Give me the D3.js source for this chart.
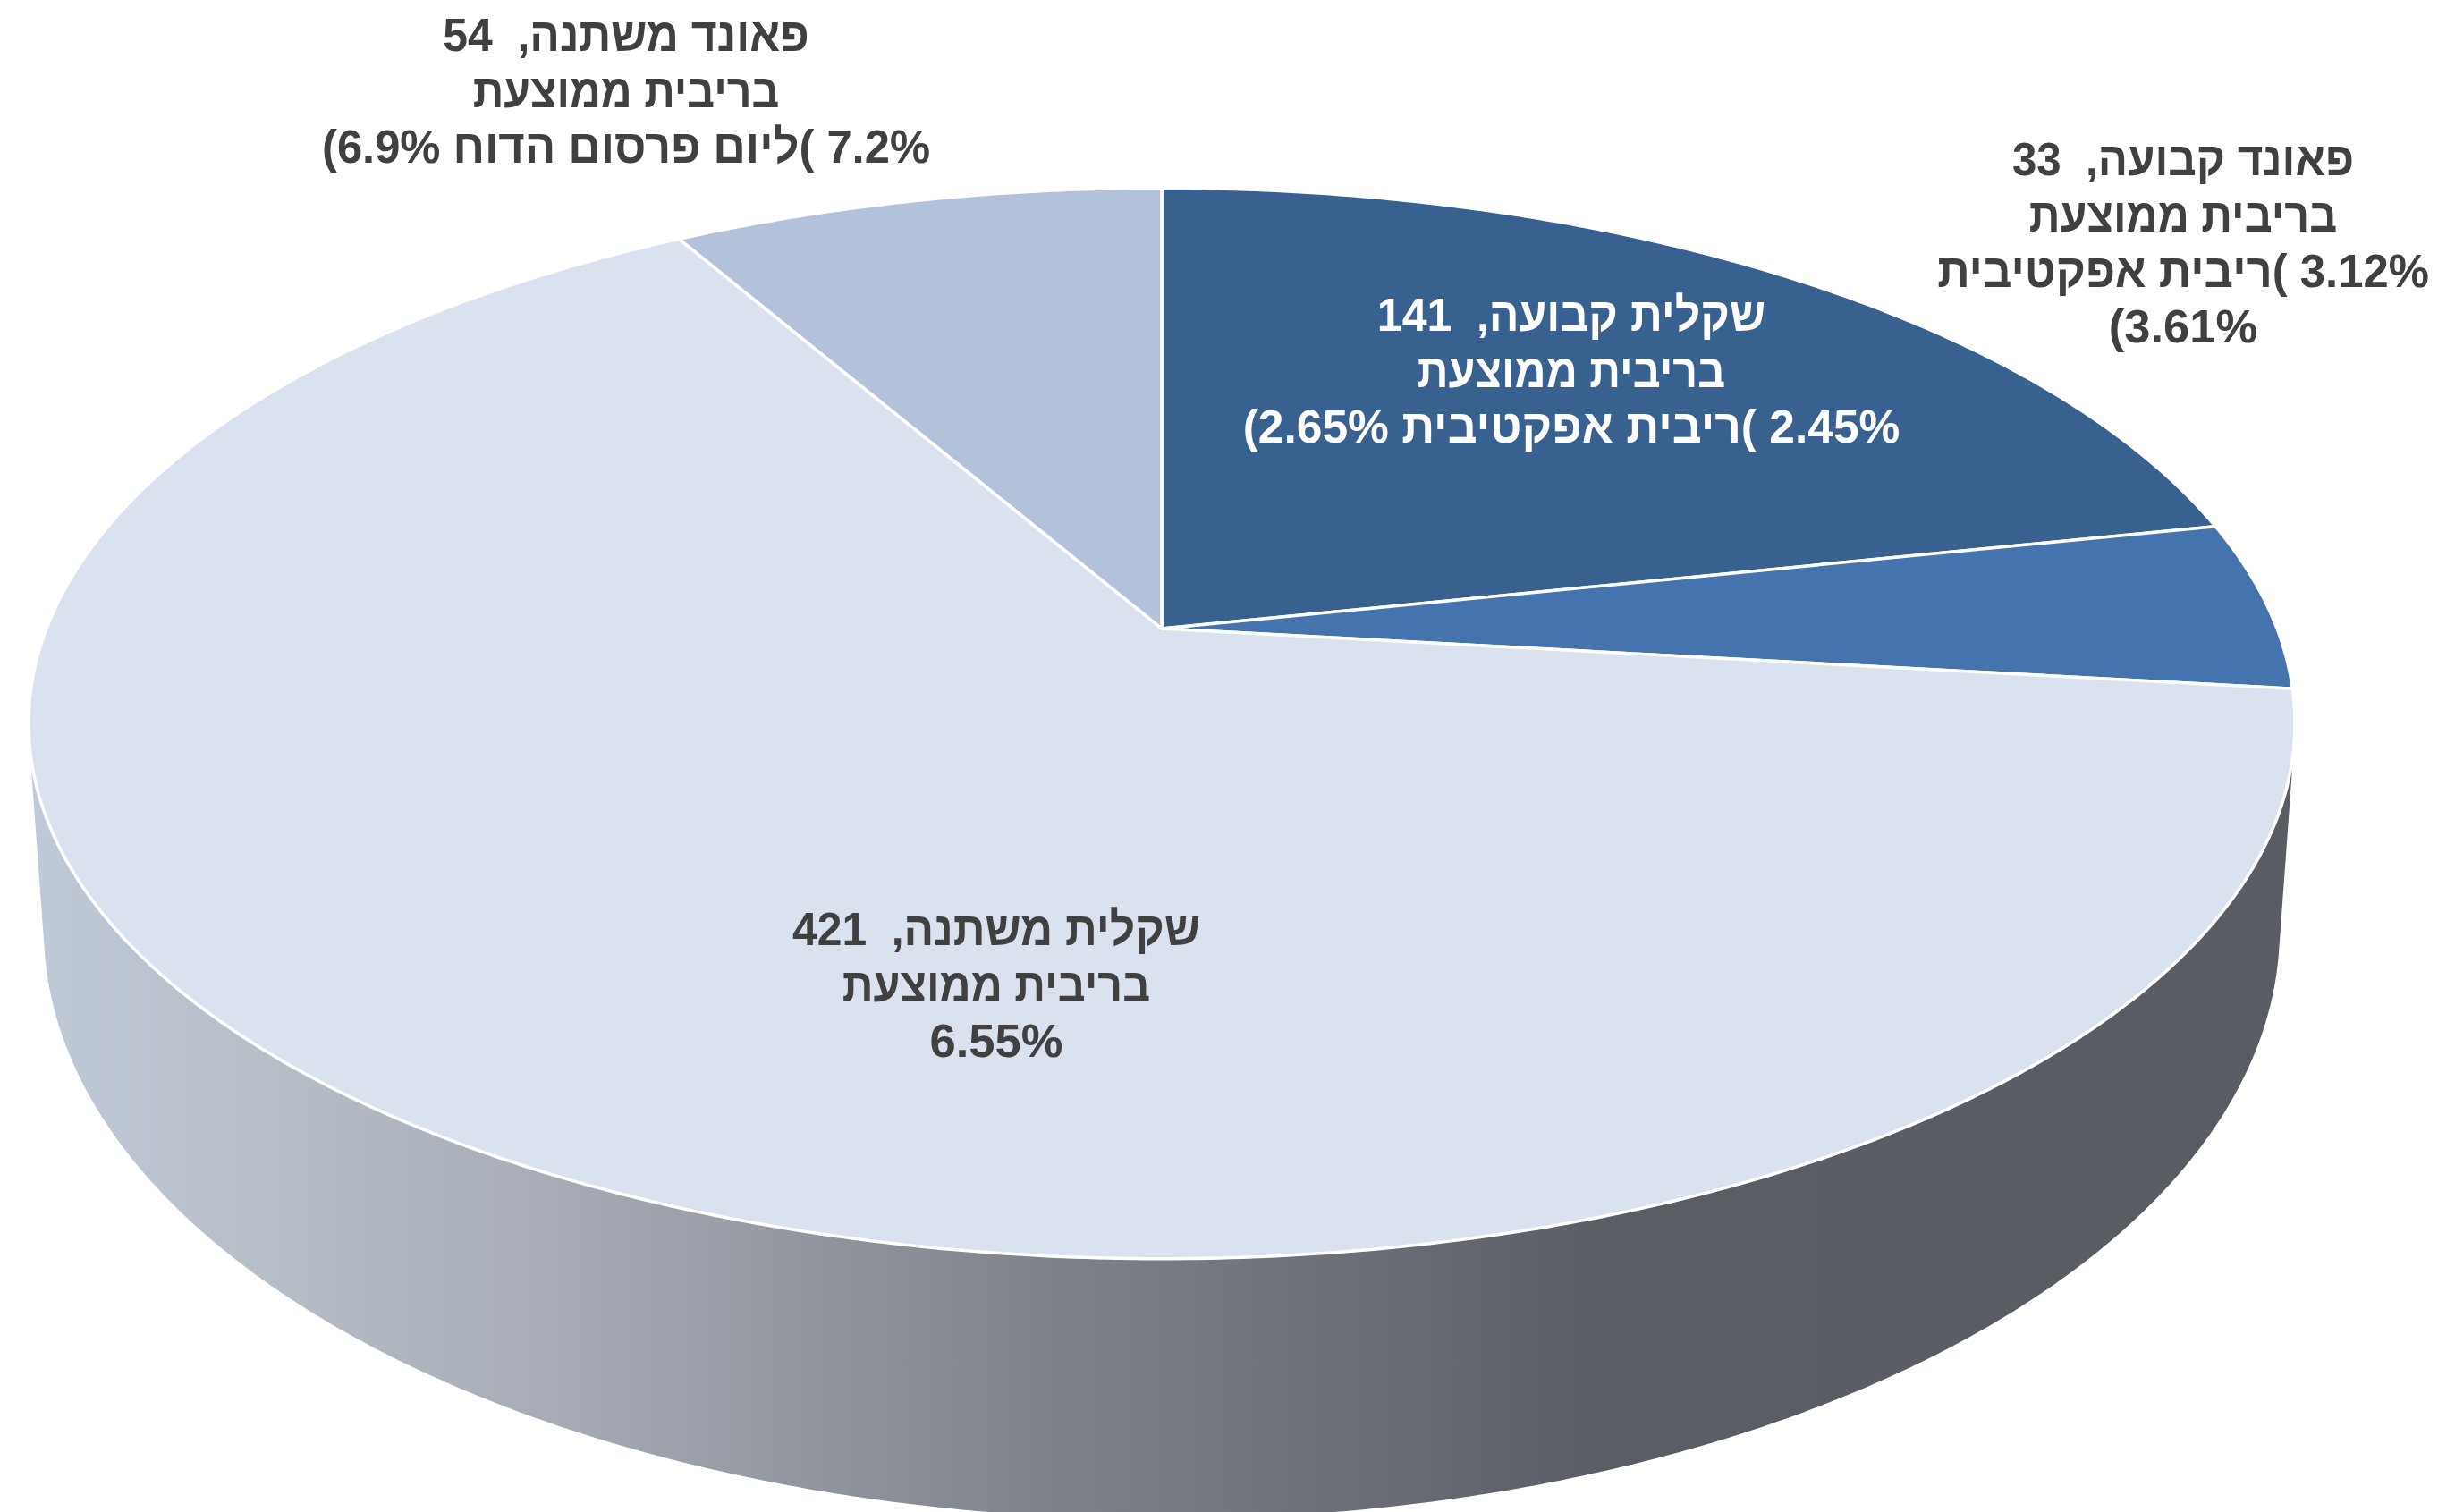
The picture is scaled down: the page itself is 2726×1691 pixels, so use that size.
<!DOCTYPE html>
<html lang="he">
<head>
<meta charset="utf-8">
<title>תיק האשראי לפי סוג ריבית</title>
<script src="https://cdn.jsdelivr.net/npm/d3@7"></script>
<style>
  html, body { margin: 0; padding: 0; background: #fff; overflow: hidden; }
  svg { display: block; }
  text { font-family: "Liberation Sans", Arial, sans-serif; font-weight: 700; direction: rtl; white-space: pre; }
</style>
</head>
<body>
<svg id="chart" width="2726" height="1691" viewBox="0 0 2726 1691"></svg>
<script>
// Slices, clockwise from twelve o'clock
const categories = ["שקלית קבועה", "פאונד קבועה", "שקלית משתנה", "פאונד משתנה"];
const seriesValues = [141, 33, 421, 54];
const rateLines = [
  ["בריבית ממוצעת", "2.45% )ריבית אפקטיבית 2.65%)"],
  ["בריבית ממוצעת", "3.12% )ריבית אפקטיבית", "3.61%)"],
  ["בריבית ממוצעת", "6.55%"],
  ["בריבית ממוצעת", "7.2% )ליום פרסום הדוח 6.9%)"]
];
const sliceColors = ["#386190", "#4573AE", "#DAE2F0", "#B3C2DA"];
const labelColors = ["#FFFFFF", "#404040", "#404040", "#404040"];
const labelCentres = [[1757, 352], [2441, 178], [1114, 1039], [700, 39]];
// Horizontal fit of each label line
const lineFit = [
  [0.951, 0.922, 0.981],
  [0.938, 0.922, 0.968, 1],
  [0.949, 0.922, 1],
  [0.949, 0.917, 0.966]
];

// Tilted disc: a projective map from the unit circle to the screen
const disc = { cx: 1299, cy: 703, a: 1247, b: 580, p: 0.177 };
const base = { cx: 1299, cy: 1039, rx: 1250, ry: 660 };
const wallStops = [
  [38, "#BFC9D7"], [300, "#B6BEC7"], [600, "#A8ADB7"], [900, "#92969F"],
  [1200, "#7C8088"], [1500, "#6C6F77"], [1800, "#5A5D64"], [2560, "#5A5C63"]
];
const fontSize = 52.5;
const lineStep = 62.3;

const project = theta => {
  const w = 1 + disc.p * Math.cos(theta);
  return [disc.cx + disc.a * Math.sin(theta) / w, disc.cy - disc.b * Math.cos(theta) / w];
};

const svg = d3.select("#chart");
const gradient = svg.append("defs").append("linearGradient")
  .attr("id", "wall-shade")
  .attr("gradientUnits", "userSpaceOnUse")
  .attr("x1", wallStops[0][0]).attr("x2", wallStops[wallStops.length - 1][0])
  .attr("y1", 0).attr("y2", 0);
const stopOffset = d3.scaleLinear()
  .domain([wallStops[0][0], wallStops[wallStops.length - 1][0]])
  .range([0, 1]);
gradient.selectAll("stop").data(wallStops).join("stop")
  .attr("offset", d => stopOffset(d[0]))
  .attr("stop-color", d => d[1]);

// Side wall: hull of the top rim and the lower rim
const turns = d3.range(0, 720).map(i => i / 720 * 2 * Math.PI);
const rimPoints = turns.map(project)
  .concat(turns.map(t => [base.cx + base.rx * Math.sin(t), base.cy - base.ry * Math.cos(t)]));
const line = d3.line();
svg.append("path")
  .attr("d", line(d3.polygonHull(rimPoints)) + "Z")
  .attr("fill", "url(#wall-shade)");

// Top face
const pie = d3.pie().sort(null).startAngle(0).endAngle(2 * Math.PI);
const arcs = pie(seriesValues);
const sliceOutline = d => {
  const steps = Math.max(8, Math.ceil((d.endAngle - d.startAngle) * 120));
  const rim = d3.range(steps + 1).map(i =>
    project(d.startAngle + (d.endAngle - d.startAngle) * i / steps));
  return line([[disc.cx, disc.cy], ...rim]) + "Z";
};
svg.append("g").selectAll("path").data(arcs).join("path")
  .attr("d", sliceOutline)
  .attr("fill", d => sliceColors[d.index])
  .attr("stroke", "#FFFFFF")
  .attr("stroke-width", 3.5)
  .attr("stroke-linejoin", "round");

// Slice labels, one text element per line
const labels = svg.append("g").selectAll("g").data(categories).join("g");
labels.each(function (name, i) {
  const lines = [`${name},  ${seriesValues[i]}`, ...rateLines[i]];
  d3.select(this).selectAll("text").data(lines).join("text")
    .attr("text-anchor", "middle")
    .attr("font-size", fontSize)
    .attr("fill", labelColors[i])
    .attr("dy", "0.35em")
    .attr("transform", (d, j) =>
      `translate(${labelCentres[i][0]},${labelCentres[i][1] + j * lineStep}) scale(${lineFit[i][j]},1)`)
    .text(d => d);
});
</script>
</body>
</html>
